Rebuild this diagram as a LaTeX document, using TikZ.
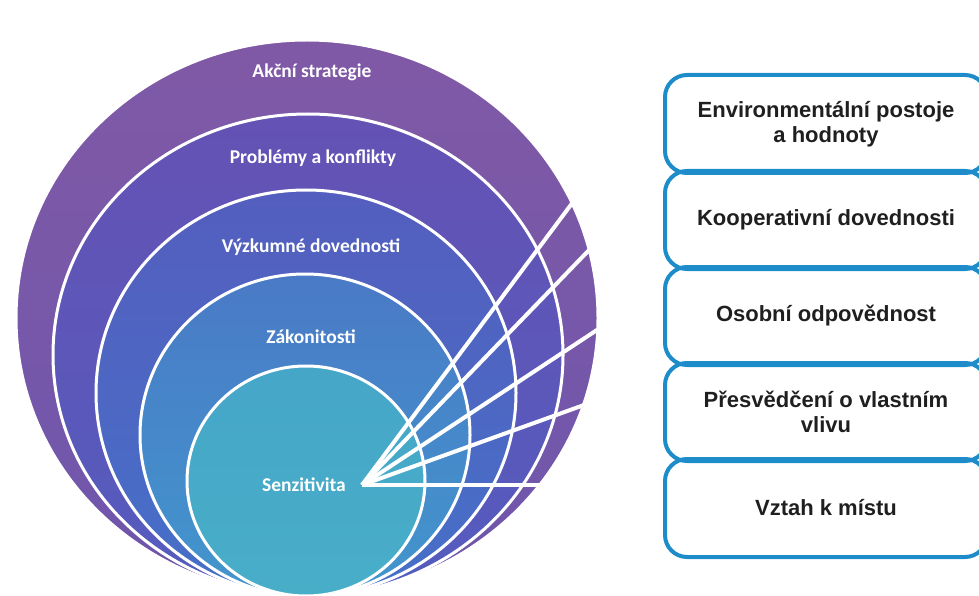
\documentclass[tikz,border=0pt]{standalone}
\usepackage{fontspec}
\setmainfont{Carlito}
\newfontfamily\boxfont{Liberation Sans}
\usetikzlibrary{positioning}
\definecolor{ringA}{RGB}{128,89,166}
\definecolor{ringAb}{RGB}{110,86,172}
\definecolor{ringB}{RGB}{100,82,180}
\definecolor{ringBb}{RGB}{84,92,190}
\definecolor{ringC}{RGB}{84,94,190}
\definecolor{ringCb}{RGB}{70,112,200}
\definecolor{ringD}{RGB}{74,122,198}
\definecolor{ringDb}{RGB}{66,150,205}
\definecolor{ringE}{RGB}{70,166,200}
\definecolor{ringEb}{RGB}{72,174,200}
\definecolor{slotblue}{RGB}{30,140,200}
\tikzset{
  ring/.style ={draw=white, line width=3pt},
  lay/.style  ={text=white, font=\bfseries\fontsize{19.5}{22}\selectfont},
  ray/.style  ={white, line width=4pt},
  slot/.style ={draw=slotblue, line width=4pt, rounded corners=22pt, outer sep=0pt,
                minimum width=322pt, minimum height=98pt, align=center,
                font=\boxfont\bfseries\fontsize{22}{25}\selectfont, text=black!88}
}

\begin{document}
\begin{tikzpicture}[x=1pt, y=-1pt, node distance=-2pt]
  \useasboundingbox (0,0) rectangle (979,596);

  % nested rings, outermost first
  \filldraw[ring, top color=ringA, bottom color=ringAb] (307,318) ellipse [x radius=291, y radius=278];
  \filldraw[ring, top color=ringB, bottom color=ringBb] (308,355) ellipse [x radius=255, y radius=241];
  \filldraw[ring, top color=ringC, bottom color=ringCb] (306,393) ellipse [x radius=210, y radius=203];
  \filldraw[ring, top color=ringD, bottom color=ringDb] (305,435) ellipse [x radius=165, y radius=161];
  \filldraw[ring, top color=ringE, bottom color=ringEb] (306,481) ellipse [x radius=119, y radius=115];

  \node[lay] (act)  at (312,72)  {Akční strategie};
  \node[lay] (prob) at (313,158) {Problémy a konflikty};
  \node[lay] (vyz)  at (311,247) {Výzkumné dovednosti};
  \node[lay] (zak)  at (311,337) {Zákonitosti};
  \node[lay] (sen)  at (304,485) {Senzitivita};

  % fan out of the inner circle
  \coordinate (tip) at (362,485);
  \coordinate (r1) at (576,198);
  \coordinate (r2) at (592,247);
  \coordinate (r3) at (600,328);
  \coordinate (r4) at (584,405);
  \coordinate (r5) at (540,485);
  \foreach \n in {1,...,5} \draw[ray] (tip) -- (r\n);

  % stacked boxes on the right
  \node[slot] (env) at (826,124) {Environmentální postoje\\a hodnoty};
  \node[slot, below=of env] (koop) {Kooperativní dovednosti};
  \node[slot, below=of koop] (odp) {Osobní odpovědnost};
  \node[slot, below=of odp] (vliv) {Přesvědčení o vlastním\\vlivu};
  \node[slot, below=of vliv] (misto) {Vztah k místu};
\end{tikzpicture}
\end{document}
